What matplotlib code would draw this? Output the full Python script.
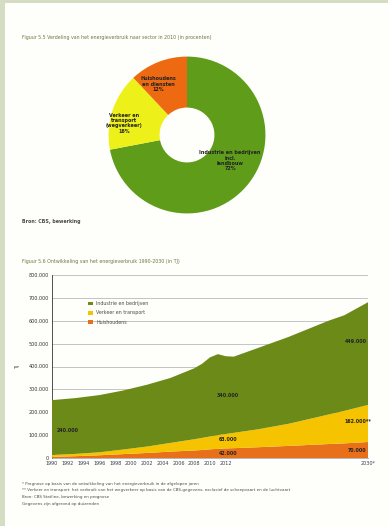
import matplotlib
matplotlib.use("Agg")
import matplotlib.pyplot as plt
from matplotlib.patches import Rectangle

# donut data
donut_labels = ["Industrie en bedrijven\nincl.\nlandbouw\n72%",
                "Verkeer en\ntransport\n(wegverkeer)\n16%",
                "Huishoudens\nen diensten\n12%"]
donut_values = [72, 16, 12]
donut_colors = ["#5e9c1a", "#eef01a", "#ee6a12"]

# area chart data (TJ)
years = [1990, 1993, 1996, 1999, 2002, 2005, 2008, 2009, 2010, 2011, 2012,
         2013, 2016, 2020, 2025, 2027, 2030]
orange = [5000, 8000, 12000, 17000, 22000, 28000, 33000, 35000, 38000, 40000,
          42000, 43000, 47000, 53000, 61000, 64000, 70000]
yellow = [8000, 10000, 13000, 20000, 28000, 38000, 49000, 53000, 56000, 60000,
          63000, 67000, 78000, 97000, 129000, 142000, 162000]
green = [240000, 244000, 250000, 258000, 270000, 284000, 310000, 324000,
         346000, 354000, 340000, 333000, 355000, 380000, 410000, 418000, 449000]
series_names = ["Industrie en bedrijven", "Verkeer en transport", "Huishoudens"]
area_colors = ["#6b8a18", "#f5c300", "#e8701a"]
xtick_years = [1990, 1992, 1994, 1996, 1998, 2000, 2002, 2004, 2006, 2008,
               2010, 2012, 2030]
xtick_labels = [str(y) for y in xtick_years[:-1]] + ["2030*"]
ytick_values = [0, 100000, 200000, 300000, 400000, 500000, 600000, 700000, 800000]


def fmt(v):
    return f"{v:,.0f}".replace(",", ".")


fig = plt.figure(figsize=(3.88, 5.26), dpi=100)
fig.patch.set_facecolor("#d4dcc4")
fig.patches.append(Rectangle((5 / 388, 0), 1, 1 - 3 / 526, transform=fig.transFigure,
                             facecolor="#fefefa", edgecolor="none", zorder=-5))

txt = "#4a4a4a"

# titles and notes
fig.text(22 / 388, 1 - 37 / 526,
         "Figuur 5.5 Verdeling van het energieverbruik naar sector in 2010 (in procenten)",
         fontsize=3.4, color="#6b7a45", va="center")
fig.text(22 / 388, 1 - 222 / 526, "Bron: CBS, bewerking",
         fontsize=3.4, color=txt, va="center", weight="bold")
fig.text(22 / 388, 1 - 262 / 526,
         "Figuur 5.6 Ontwikkeling van het energieverbruik 1990-2030 (in TJ)",
         fontsize=3.4, color="#6b7a45", va="center")
notes = ["* Prognose op basis van de ontwikkeling van het energieverbruik in de afgelopen jaren",
         "** Verkeer en transport: het verbruik van het wegverkeer op basis van de CBS-gegevens, exclusief de scheepvaart en de luchtvaart",
         "Bron: CBS Statline, bewerking en prognose",
         "Gegevens zijn afgerond op duizenden"]
for i, n in enumerate(notes):
    fig.text(22 / 388, 1 - (484 + i * 6.5) / 526, n, fontsize=2.9, color=txt, va="center")

# donut
axd = fig.add_axes([107 / 388, 1 - 215 / 526, 160 / 388, 160 / 526])
axd.pie(donut_values, colors=donut_colors, startangle=90, counterclock=False,
        radius=1, wedgeprops=dict(width=0.65, edgecolor="none"))
axd.set_xlim(-1.02, 1.02)
axd.set_ylim(-1.02, 1.02)
axd.set_aspect("equal")
label_pos = [(0.55, -0.33), (-0.8, 0.15), (-0.37, 0.65)]
for lab, (x, y) in zip(donut_labels, label_pos):
    axd.text(x, y, lab, fontsize=3.5, ha="center", va="center",
             color="#222222", weight="bold", linespacing=1.1)

# area chart
ax = fig.add_axes([52 / 388, 1 - 458 / 526, 316 / 388, 183 / 526])
polys = ax.stackplot(years, orange, yellow, green, colors=area_colors[::-1],
                     labels=series_names[::-1], zorder=3)
ax.set_xlim(1990, 2030)
ax.set_ylim(0, 800000)
ax.set_yticks(ytick_values)
ax.set_yticklabels([fmt(v) for v in ytick_values], fontsize=3.5, color="#333")
ax.set_xticks(xtick_years)
ax.set_xticklabels(xtick_labels, fontsize=3.5, color="#3a3f55")
ax.tick_params(length=0, pad=2.5)
ax.grid(axis="y", color="#bbbbbb", linewidth=0.6, zorder=0)
for s in ["top", "right"]:
    ax.spines[s].set_visible(False)
ax.spines["left"].set_color("#333333")
ax.spines["left"].set_linewidth(0.6)
ax.spines["bottom"].set_color("#999999")
ax.spines["bottom"].set_linewidth(0.5)
ax.set_ylabel("TJ", fontsize=3.5, color=txt, labelpad=6)
ax.set_facecolor("none")

# value labels
i12 = years.index(2012)
ax.text(2012.3, orange[i12] + yellow[i12] + green[i12] * 0.5, fmt(green[i12]),
        fontsize=3.4, weight="bold", ha="center", va="center", color="#222", zorder=5)
ax.text(2012.3, orange[i12] + yellow[i12] * 0.5 + 8000, fmt(yellow[i12]),
        fontsize=3.4, weight="bold", ha="center", va="center", color="#222", zorder=5)
ax.text(2012.3, orange[i12] * 0.5, fmt(orange[i12]),
        fontsize=3.4, weight="bold", ha="center", va="center", color="#222", zorder=5)
ax.text(2029.8, orange[-1] + yellow[-1] + green[-1] * 0.62, fmt(green[-1]),
        fontsize=3.4, weight="bold", ha="right", va="center", color="#222", zorder=5)
ax.text(2030.4, orange[-1] + yellow[-1] * 0.55, fmt(yellow[-1]) + "**",
        fontsize=3.4, weight="bold", ha="right", va="center", color="#222", zorder=5)
ax.text(2029.8, orange[-1] * 0.45, fmt(orange[-1]),
        fontsize=3.4, weight="bold", ha="right", va="center", color="#222", zorder=5)
ax.text(1990.6, 120000, fmt(green[0]), fontsize=3.4, weight="bold",
        ha="left", va="center", color="#222", zorder=5)

handles, labels = ax.get_legend_handles_labels()
ax.legend(handles[::-1], labels[::-1], loc="upper left", bbox_to_anchor=(0.1, 0.88),
          frameon=False, fontsize=3.4, handlelength=1.0, handleheight=0.8,
          labelspacing=0.9, labelcolor=txt)

fig.savefig("out.png", dpi=100, facecolor=fig.get_facecolor())
